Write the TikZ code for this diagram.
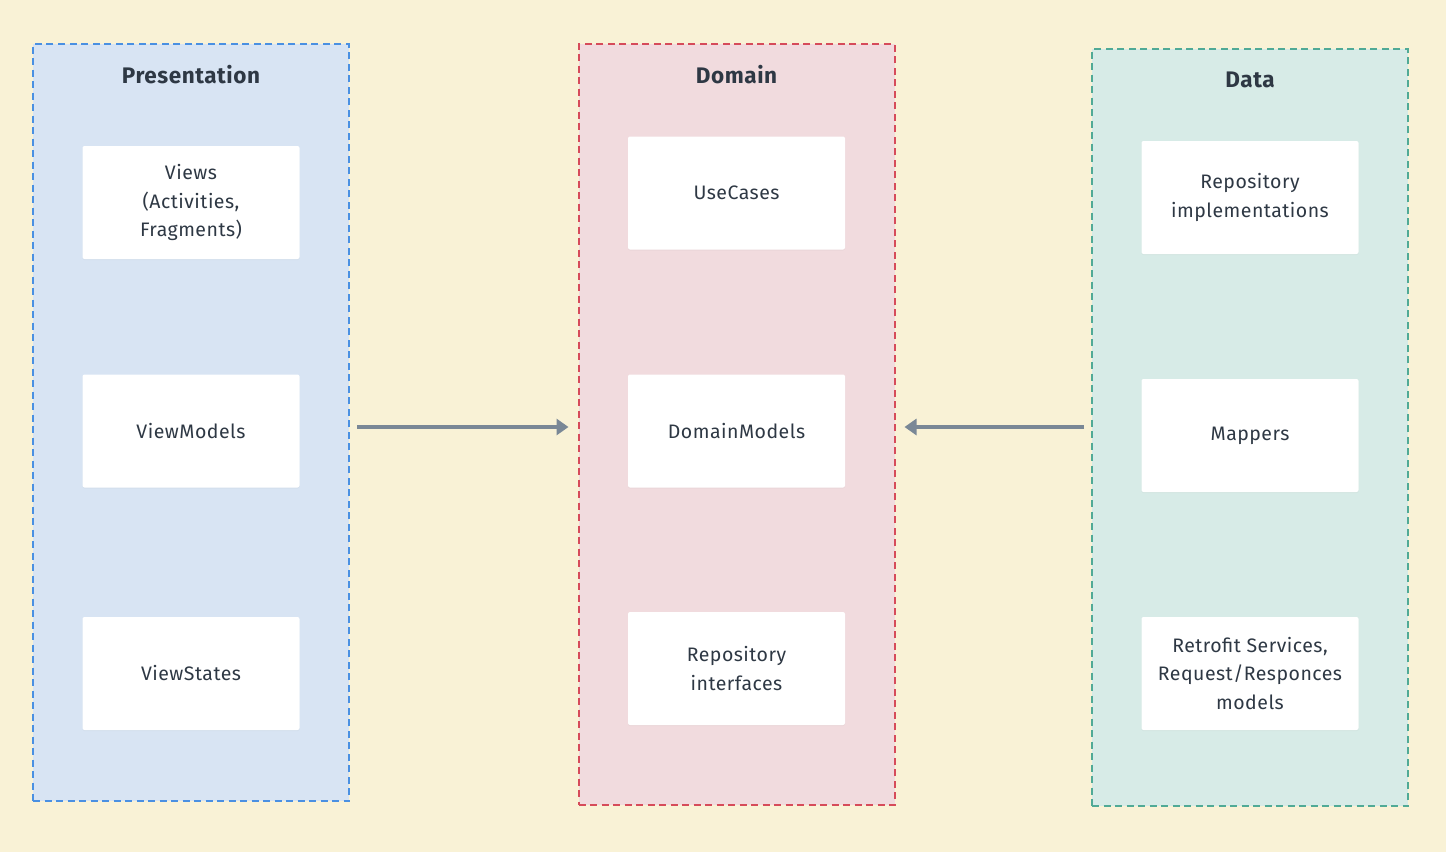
\documentclass[tikz,border=0pt]{standalone}
\usepackage{fontspec}
\setmainfont{Fira Sans}[LetterSpace=2.5]
\usepackage{xcolor}
\usepackage{tikz}
\usetikzlibrary{shadows,arrows.meta}
\definecolor{bgcream}{RGB}{249,242,214}
\definecolor{presfill}{RGB}{216,228,243}
\definecolor{presline}{RGB}{74,144,226}
\definecolor{domfill}{RGB}{241,219,222}
\definecolor{domline}{RGB}{214,75,90}
\definecolor{datafill}{RGB}{215,235,231}
\definecolor{dataline}{RGB}{80,170,150}
\definecolor{inktext}{RGB}{46,56,68}
\definecolor{arrowgray}{RGB}{122,136,150}

\begin{document}
\begin{tikzpicture}[x=1pt,y=-1pt,every node/.style={align=center,text=inktext,font=\fontsize{19.5}{28.5}\selectfont},
    layer/.style={draw,dashed,dash pattern=on 7pt off 4.5pt,line width=2pt,minimum width=316pt,inner sep=0pt},
    item/.style={fill=white,rounded corners=2pt,minimum width=217pt,minimum height=113pt,inner sep=0pt,
        drop shadow={opacity=0.06,shadow xshift=0pt,shadow yshift=-1pt}},
    head/.style={font=\bfseries\fontsize{22.5}{26}\selectfont},
    flow/.style={draw=arrowgray,line width=4.2pt,-{Triangle[length=12pt,width=16pt]}}]
    \useasboundingbox[fill=bgcream] (0,0) rectangle (1446,852);
    % layers
    \node[layer,draw=presline,fill=presfill,minimum height=757pt] (pres) at (191,422.5) {};
    \node[layer,draw=domline,fill=domfill,minimum height=761pt] (dom) at (736.5,424.5) {};
    \node[layer,draw=dataline,fill=datafill,minimum height=757pt] (data) at (1250,427.5) {};
    \node[head] (prestitle) at (191,75) {Presentation};
    \node[head] (domtitle) at (736.5,75) {Domain};
    \node[head] (datatitle) at (1250,80) {Data};
    % presentation
    \node[item] (views) at (191,202.5) {Views\\(Activities,\\Fragments)};
    \node[item] (vmodels) at (191,431) {ViewModels};
    \node[item] (vstates) at (191,673.5) {ViewStates};
    % domain
    \node[item] (usecases) at (736.5,193) {UseCases};
    \node[item] (dmodels) at (736.5,431) {DomainModels};
    \node[item] (repoint) at (736.5,668.5) {Repository\\interfaces};
    % data
    \node[item] (repoimpl) at (1250,197.5) {Repository\\implementations};
    \node[item] (mappers) at (1250,435.5) {Mappers};
    \node[item] (retrofit) at (1250,673.5) {Retrofit Services,\\Request/Responces\\models};
    % arrows
    \draw[flow,shorten <=7pt,shorten >=9pt] ([yshift=4pt]pres.east |- dmodels.center) -- ([yshift=4pt]dom.west |- dmodels.center);
    \draw[flow,shorten <=7pt,shorten >=9pt] ([yshift=4pt]data.west |- dmodels.center) -- ([yshift=4pt]dom.east |- dmodels.center);
\end{tikzpicture}
\end{document}
